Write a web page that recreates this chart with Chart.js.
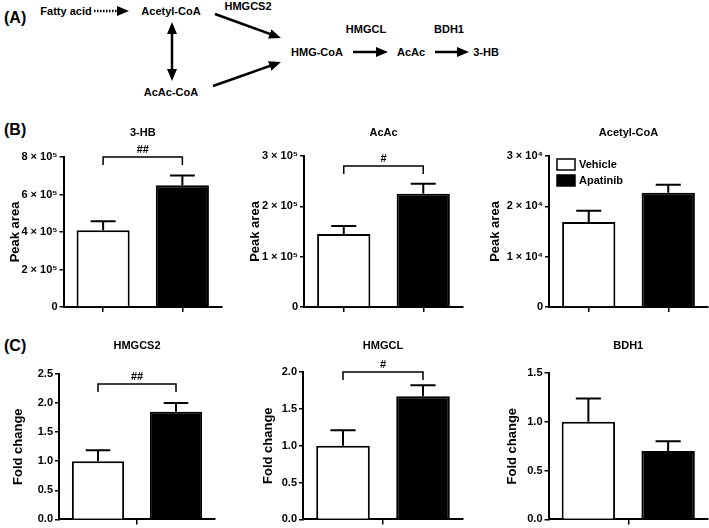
<!DOCTYPE html>
<html>
<head>
<meta charset="utf-8">
<script src="https://cdn.jsdelivr.net/npm/chart.js@4.4.1/dist/chart.umd.min.js"></script>
<style>
  html, body { margin: 0; padding: 0; background: #fff; }
  #page { position: relative; width: 709px; height: 528px; overflow: hidden; }
  #page svg { position: absolute; left: 0; top: 0; }
  #page canvas { position: absolute; }
  svg text { font-family: "Liberation Sans", Arial, sans-serif; font-weight: bold; fill: #000; }
</style>
</head>
<body>
<div id="page">
  <svg width="709" height="528">
    <defs>
      <marker id="head" markerWidth="12" markerHeight="10" refX="3" refY="5"
              orient="auto-start-reverse" markerUnits="userSpaceOnUse">
        <path d="M0,0 L12,5 L0,10 z" fill="#000"/>
      </marker>
    </defs>
    <text x="4" y="17" font-size="16" dominant-baseline="central">(A)</text>
    <text x="4" y="129" font-size="16" dominant-baseline="central">(B)</text>
    <text x="4" y="345" font-size="16" dominant-baseline="central">(C)</text>

    <g font-size="11" text-anchor="middle" dominant-baseline="central">
      <text x="66" y="11">Fatty acid</text>
      <text x="171" y="11">Acetyl-CoA</text>
      <text x="248" y="6">HMGCS2</text>
      <text x="171" y="92">AcAc-CoA</text>
      <text x="317" y="52">HMG-CoA</text>
      <text x="366" y="29">HMGCL</text>
      <text x="411" y="52">AcAc</text>
      <text x="449" y="29">BDH1</text>
      <text x="486" y="52">3-HB</text>
    </g>
    <g stroke="#000" stroke-width="2.5" fill="none">
      <line x1="94" y1="11" x2="120" y2="11" stroke-dasharray="1.5 1.5" marker-end="url(#head)"/>
      <line x1="215" y1="14" x2="272.5" y2="34.9" marker-end="url(#head)"/>
      <line x1="213" y1="86" x2="272.5" y2="65" marker-end="url(#head)"/>
      <line x1="172" y1="31" x2="172" y2="72" marker-start="url(#head)" marker-end="url(#head)"/>
      <line x1="353" y1="52" x2="379" y2="52" marker-end="url(#head)"/>
      <line x1="435" y1="52" x2="460" y2="52" marker-end="url(#head)"/>
    </g>
  </svg>
</div>
<script>
// groups
const groups = ["Vehicle", "Apatinib"];
const groupColors = ["#ffffff", "#000000"];

// (B) metabolites, peak area
const hbMean = [4.1e5, 6.5e5];
const hbSem = [0.47e5, 0.52e5];
const acacMean = [1.45e5, 2.25e5];
const acacSem = [0.16e5, 0.2e5];
const acoaMean = [1.69e4, 2.27e4];
const acoaSem = [0.22e4, 0.16e4];

// (C) enzymes, fold change
const hmgcs2Mean = [1.0, 1.85];
const hmgcs2Sem = [0.19, 0.15];
const hmgclMean = [1.0, 1.67];
const hmgclSem = [0.21, 0.15];
const bdh1Mean = [1.0, 0.7];
const bdh1Sem = [0.24, 0.1];

// axis ticks
const hbTicks = { max: 8e5, step: 2e5 };
const acacTicks = { max: 3e5, step: 1e5 };
const acoaTicks = { max: 3e4, step: 1e4 };
const hmgcs2Ticks = { max: 2.5, step: 0.5 };
const hmgclTicks = { max: 2.0, step: 0.5 };
const bdh1Ticks = { max: 1.5, step: 0.5 };

// significance marks
const hbSig = { label: "##", level: 8e5 };
const acacSig = { label: "#", level: 2.8e5 };
const hmgcs2Sig = { label: "##", level: 2.33 };
const hmgclSig = { label: "#", level: 2.0 };

Chart.defaults.font.family = '"Liberation Sans", Arial, sans-serif';
Chart.defaults.color = "#000";

const sci = (exp) => (v) => (v === 0 ? "0" : v / Math.pow(10, exp) + " \u00d7 10" + (exp === 5 ? "\u2075" : "\u2074"));
const fixed1 = (v) => v.toFixed(1);

// error bars, brackets and legend
const extras = {
  id: "extras",
  afterDatasetsDraw(chart, args, opts) {
    const ctx = chart.ctx;
    const meta = chart.getDatasetMeta(0);
    const ds = chart.data.datasets[0];
    const y = chart.scales.y;
    ctx.save();
    ctx.strokeStyle = "#000";
    ctx.fillStyle = "#000";
    ctx.lineWidth = 2;
    meta.data.forEach((bar, i) => {
      const top = y.getPixelForValue(ds.data[i] + opts.err[i]);
      const half = bar.width * 0.235;
      ctx.beginPath();
      ctx.moveTo(bar.x, bar.y);
      ctx.lineTo(bar.x, top);
      ctx.moveTo(bar.x - half, top);
      ctx.lineTo(bar.x + half, top);
      ctx.stroke();
    });
    if (opts.sig) {
      const yp = y.getPixelForValue(opts.sig.level);
      const x0 = meta.data[0].x, x1 = meta.data[1].x;
      ctx.lineWidth = 1.5;
      ctx.beginPath();
      ctx.moveTo(x0, yp + 8);
      ctx.lineTo(x0, yp);
      ctx.lineTo(x1, yp);
      ctx.lineTo(x1, yp + 8);
      ctx.stroke();
      ctx.font = "bold 11px " + Chart.defaults.font.family;
      ctx.textAlign = "center";
      ctx.textBaseline = "middle";
      ctx.fillText(opts.sig.label, (x0 + x1) / 2, yp - 7);
    }
    if (opts.legend) {
      const a = chart.chartArea;
      ctx.lineWidth = 1.5;
      ctx.font = "bold 11px " + Chart.defaults.font.family;
      ctx.textAlign = "left";
      ctx.textBaseline = "middle";
      groups.forEach((g, i) => {
        const bx = a.left + 8, by = a.top + 3 + i * 16;
        ctx.fillStyle = ds.backgroundColor[i];
        ctx.fillRect(bx, by, 18, 11);
        ctx.strokeRect(bx, by, 18, 11);
        ctx.fillStyle = "#000";
        ctx.fillText(g, bx + 22, by + 6);
      });
    }
    ctx.restore();
  },
};

// box: canvas [left, top, w, h]; area: chart area [L, T, R, B] in page px
function panel(p) {
  const [cx, cy, cw, ch] = p.box;
  const [L, T, R, B] = p.area;
  const canvas = document.createElement("canvas");
  canvas.width = cw;
  canvas.height = ch;
  canvas.style.left = cx + "px";
  canvas.style.top = cy + "px";
  document.getElementById("page").appendChild(canvas);

  const tfs = 11;
  const pt = p.titleY - cy - tfs * 0.6;
  const pb = T - cy - tfs * 1.2 - pt;

  new Chart(canvas, {
    type: "bar",
    data: {
      labels: groups,
      datasets: [{
        data: p.mean,
        backgroundColor: groupColors,
        borderColor: "#000",
        borderWidth: 2,
        barPercentage: 0.67,
        categoryPercentage: 1,
      }],
    },
    options: {
      responsive: false,
      animation: false,
      devicePixelRatio: 1,
      layout: { padding: { left: 0, top: 0, right: cx + cw - R, bottom: 0 } },
      plugins: {
        legend: { display: false },
        tooltip: { enabled: false },
        title: {
          display: true,
          text: p.title,
          fullSize: false,
          color: "#000",
          font: { size: tfs, weight: "bold" },
          padding: { top: pt, bottom: pb },
        },
        extras: { err: p.sem, sig: p.sig, legend: p.legend },
      },
      scales: {
        x: {
          grid: {
            offset: p.midTick,
            drawOnChartArea: false,
            tickLength: 5,
            lineWidth: 1.5,
            color: (c) => (!p.midTick || c.index === 1 ? "#000" : "rgba(0,0,0,0)"),
          },
          border: { color: "#000", width: 2 },
          ticks: { display: false },
          afterFit: (s) => { s.height = cy + ch - B; },
        },
        y: {
          min: 0,
          max: p.ticks.max,
          ticks: {
            stepSize: p.ticks.step,
            callback: p.fmt,
            color: "#000",
            padding: 2,
            font: { size: 11, weight: "bold" },
          },
          grid: { drawOnChartArea: false, tickLength: 4, lineWidth: 1.5, color: "#000" },
          border: { color: "#000", width: 2 },
          title: {
            display: true,
            text: p.yTitle,
            color: "#000",
            font: { size: 13, weight: "bold" },
            padding: { top: p.yTitleX - cx - 7.8, bottom: 0 },
          },
          afterFit: (s) => { s.width = L - cx; },
        },
      },
    },
    plugins: [extras],
  });
}

panel({ box: [0, 118, 232, 200], area: [63.5, 157, 222, 307], titleY: 133, yTitleX: 15,
  title: "3-HB", yTitle: "Peak area", mean: hbMean, sem: hbSem, ticks: hbTicks, fmt: sci(5), sig: hbSig, midTick: false });
panel({ box: [240, 118, 230, 200], area: [304, 156, 463, 307], titleY: 133, yTitleX: 255,
  title: "AcAc", yTitle: "Peak area", mean: acacMean, sem: acacSem, ticks: acacTicks, fmt: sci(5), sig: acacSig, midTick: false });
panel({ box: [476, 118, 233, 200], area: [549, 156, 708, 307], titleY: 133, yTitleX: 495,
  title: "Acetyl-CoA", yTitle: "Peak area", mean: acoaMean, sem: acoaSem, ticks: acoaTicks, fmt: sci(4), legend: true, midTick: false });
panel({ box: [0, 330, 232, 198], area: [59, 374, 215, 523], titleY: 346, yTitleX: 18,
  title: "HMGCS2", yTitle: "Fold change", mean: hmgcs2Mean, sem: hmgcs2Sem, ticks: hmgcs2Ticks, fmt: fixed1, sig: hmgcs2Sig, midTick: true });
panel({ box: [240, 330, 230, 198], area: [303, 372, 463, 524], titleY: 346, yTitleX: 268,
  title: "HMGCL", yTitle: "Fold change", mean: hmgclMean, sem: hmgclSem, ticks: hmgclTicks, fmt: fixed1, sig: hmgclSig, midTick: true });
panel({ box: [476, 330, 233, 198], area: [548.5, 373, 708, 523], titleY: 346, yTitleX: 512,
  title: "BDH1", yTitle: "Fold change", mean: bdh1Mean, sem: bdh1Sem, ticks: bdh1Ticks, fmt: fixed1, midTick: true });
</script>
</body>
</html>
